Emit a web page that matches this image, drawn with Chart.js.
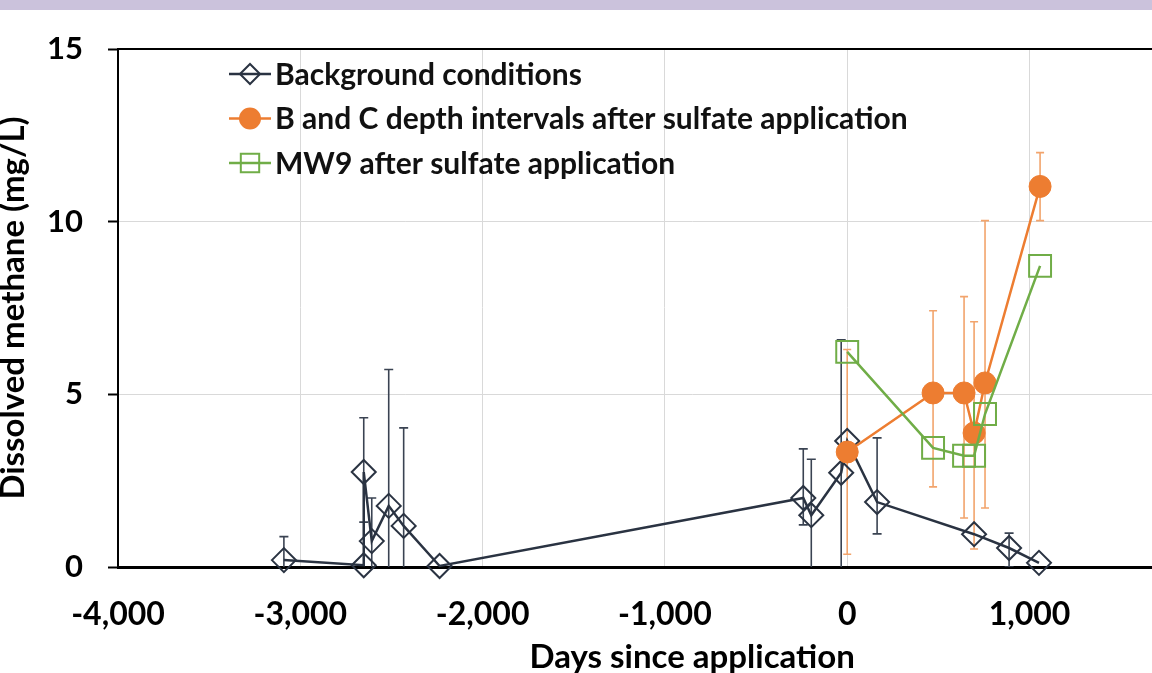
<!doctype html>
<html lang="en">

<head>
	<meta charset="utf-8">
	<title>Dissolved methane</title>
	<style>
		* {
			margin: 0;
			padding: 0;
		}

		html,
		body {
			width: 1152px;
			height: 673px;
			overflow: hidden;
			background: #fff;
		}

		.band {
			position: absolute;
			left: 0;
			top: 0;
			width: 100%;
			height: 10px;
			background: #cbc2dc;
			z-index: 2;
		}

		.chartBox {
			position: absolute;
			left: -8px;
			top: 0;
		}
	</style>
</head>

<body>
	<div class="band"></div>
	<div class="chartBox">
		<canvas id="methaneChart" width="1292" height="680"></canvas>
	</div>
	<script src="https://cdn.jsdelivr.net/npm/chart.js"></script>
	<script>
		// axis ticks
		const xTickValues = [-4000, -3000, -2000, -1000, 0, 1000, 2000]
		const yTickValues = [0, 5, 10, 15]

		// background conditions
		const bgDays = [-3090, -2652, -2652, -2608, -2515, -2433, -2236, -241, -197, -33, 0, 164, 696, 888, 1052]
		const bgMethane = [0.2, 0.05, 2.75, 0.75, 1.77, 1.19, 0.03, 2.0, 1.5, 2.73, 3.65, 1.88, 0.95, 0.55, 0.12]
		const bgErrPlus = [0.68, 0, 1.57, 1.25, 3.95, 2.84, 0, 1.42, 1.62, 3.85, 0, 1.86, 0, 0.43, 0]
		const bgErrMinus = [0.68, 0, 1.45, 1.25, 3.95, 2.84, 0, 0.78, 1.62, 3.85, 0, 0.92, 0, 0.55, 0]

		// B and C depth intervals
		const bcDays = [0, 471, 641, 696, 756, 1058]
		const bcMethane = [3.33, 5.04, 5.04, 3.88, 5.33, 11.02]
		const bcErrPlus = [2.97, 2.38, 2.79, 3.22, 4.7, 0.98]
		const bcErrMinus = [2.96, 2.72, 3.62, 3.36, 3.62, 0.99]

		// MW9
		const mwDays = [0, 471, 641, 696, 756, 1058]
		const mwMethane = [6.23, 3.45, 3.22, 3.22, 4.43, 8.72]

		const toPoints = (xs, ys) => xs.map((x, i) => ({ x: x, y: ys[i] }))

		const darkColor = '#2a3342'
		const orangeColor = '#ed7d31'
		const greenColor = '#70ad47'

		const errorBars = {
			id: 'errorBars',
			beforeDatasetsDraw(chart) {
				const { ctx, chartArea, scales } = chart
				ctx.save()
				ctx.beginPath()
				ctx.rect(chartArea.left, chartArea.top, chartArea.width, chartArea.height)
				ctx.clip()
				chart.data.datasets.forEach(ds => {
					if (!ds.errPlus) return
					ctx.strokeStyle = ds.errColor
					ctx.lineWidth = 1.6
					ds.data.forEach((p, i) => {
						const up = ds.errPlus[i]
						const dn = ds.errMinus[i]
						if (!up && !dn) return
						const px = scales.x.getPixelForValue(p.x)
						const yTop = scales.y.getPixelForValue(p.y + up)
						const yBot = scales.y.getPixelForValue(p.y - dn)
						ctx.beginPath()
						ctx.moveTo(px, yTop)
						ctx.lineTo(px, yBot)
						ctx.moveTo(px - ds.errCap, yTop)
						ctx.lineTo(px + ds.errCap, yTop)
						ctx.moveTo(px - ds.errCap, yBot)
						ctx.lineTo(px + ds.errCap, yBot)
						ctx.stroke()
					})
				})
				ctx.restore()
			}
		}

		// legend sits inside the plot, top left
		const insideLegend = {
			id: 'insideLegend',
			afterDraw(chart) {
				const { ctx, chartArea } = chart
				ctx.save()
				// top frame line
				ctx.strokeStyle = '#000'
				ctx.lineWidth = 2
				ctx.beginPath()
				ctx.moveTo(chartArea.left, chartArea.top)
				ctx.lineTo(chartArea.right, chartArea.top)
				ctx.stroke()

				const lx = 237
				chart.data.datasets.forEach((ds, i) => {
					const ly = 74 + i * 44.5
					ctx.strokeStyle = ds.borderColor
					ctx.lineWidth = 2.5
					ctx.beginPath()
					ctx.moveTo(lx, ly)
					ctx.lineTo(lx + 42, ly)
					ctx.stroke()
					ctx.fillStyle = ds.pointBackgroundColor
					ctx.strokeStyle = ds.pointBorderColor
					ctx.lineWidth = 2
					Chart.helpers.drawPoint(ctx, {
						pointStyle: ds.pointStyle,
						radius: ds.legendRadius,
						borderWidth: 2,
						rotation: 0
					}, lx + 21, ly)
					ctx.fillStyle = '#111'
					ctx.font = 'bold 30px Lato'
					ctx.textAlign = 'left'
					ctx.textBaseline = 'middle'
					ctx.fillText(ds.label, lx + 46, ly + 1)
				})
				ctx.restore()
			}
		}

		const data = {
			datasets: [
				{
					label: 'Background conditions',
					data: toPoints(bgDays, bgMethane),
					errPlus: bgErrPlus,
					errMinus: bgErrMinus,
					errColor: '#3a4352',
					errCap: 4.5,
					borderColor: darkColor,
					borderWidth: 2.5,
					pointStyle: 'rectRot',
					pointRadius: 12,
					legendRadius: 10,
					pointBorderWidth: 2,
					pointBorderColor: darkColor,
					pointBackgroundColor: 'rgba(0,0,0,0)',
					order: 3,
					clip: false
				}, {
					label: 'B and C depth intervals after sulfate application',
					data: toPoints(bcDays, bcMethane),
					errPlus: bcErrPlus,
					errMinus: bcErrMinus,
					errColor: '#f2a46c',
					errCap: 4,
					borderColor: orangeColor,
					borderWidth: 2.5,
					pointStyle: 'circle',
					pointRadius: 11,
					legendRadius: 10,
					pointBorderWidth: 1,
					pointBorderColor: orangeColor,
					pointBackgroundColor: orangeColor,
					order: 2,
					clip: false
				}, {
					label: 'MW9 after sulfate application',
					data: toPoints(mwDays, mwMethane),
					borderColor: greenColor,
					borderWidth: 2.5,
					pointStyle: 'rect',
					pointRadius: 15.5,
					legendRadius: 13,
					pointBorderWidth: 2,
					pointBorderColor: greenColor,
					pointBackgroundColor: 'rgba(0,0,0,0)',
					order: 1,
					clip: false
				}
			]
		}

		const config = {
			type: 'line',
			data: data,
			options: {
				responsive: false,
				animation: false,
				layout: {
					padding: { left: 0, top: 49, right: 10, bottom: 0 }
				},
				plugins: {
					legend: { display: false },
					tooltip: { enabled: false }
				},
				scales: {
					x: {
						type: 'linear',
						min: -4000,
						max: 2300,
						afterFit: (scale) => { scale.height = 113 },
						afterBuildTicks: (scale) => {
							scale.ticks = xTickValues.map(v => ({ value: v }))
						},
						ticks: {
							autoSkip: false,
							padding: 28,
							color: '#000',
							font: { family: 'Lato', size: 32, weight: 'bold' },
							callback: (v) => v.toLocaleString('en-US')
						},
						grid: {
							color: '#d9d9d9',
							drawTicks: false,
							tickLength: 0
						},
						border: { color: '#000', width: 3 },
						title: {
							display: true,
							text: 'Days since application',
							color: '#000',
							padding: { top: 0, bottom: 3 },
							font: { family: 'Lato', size: 33, weight: 'bold' }
						}
					},
					y: {
						min: 0,
						max: 15,
						afterFit: (scale) => { scale.width = 126 },
						afterBuildTicks: (scale) => {
							scale.ticks = yTickValues.map(v => ({ value: v }))
						},
						ticks: {
							padding: 25,
							color: '#000',
							font: { family: 'Lato', size: 31, weight: 'bold' }
						},
						grid: {
							color: '#d9d9d9',
							tickColor: '#000',
							tickLength: 10,
							tickWidth: 2
						},
						border: { color: '#000', width: 2 },
						title: {
							display: true,
							text: 'Dissolved methane (mg/L)',
							color: '#000',
							padding: { top: 2, bottom: 0 },
							font: { family: 'Lato', size: 33, weight: 'bold' }
						}
					}
				}
			},
			plugins: [errorBars, insideLegend]
		}

		const methaneChart = new Chart(document.getElementById('methaneChart'), config)
	</script>
</body>

</html>
